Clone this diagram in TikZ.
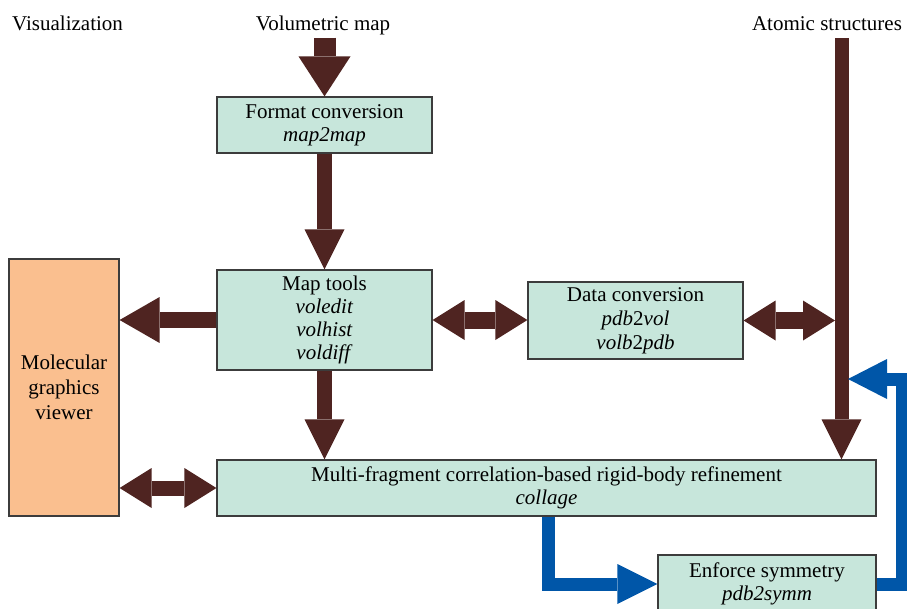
\documentclass[tikz,border=0pt]{standalone}
\usepackage{fontspec}
\setmainfont{Liberation Serif}
\usetikzlibrary{arrows.meta}
\definecolor{boxfill}{HTML}{C7E6DB}
\definecolor{peach}{HTML}{FABF8F}
\definecolor{brn}{HTML}{4F2421}
\definecolor{blu}{HTML}{0056A8}
\definecolor{edgec}{HTML}{3C3C3C}
\begin{document}
\begin{tikzpicture}[x=1pt,y=-1pt,
  font=\fontsize{21}{23}\selectfont,
  box/.style={draw=edgec, line width=1.2pt, fill=boxfill, align=center, inner sep=0pt},
  vbox/.style={draw=edgec, line width=1.2pt, fill=peach, align=center, inner sep=0pt},
  title/.style={anchor=base, inner sep=3pt},
  tipb/.style={-{Triangle[width=40pt,length=40pt,line width=0pt]}},
  dtip/.style={{Triangle[width=40pt,length=32pt,line width=0pt]}-{Triangle[width=40pt,length=32pt,line width=0pt]}},
  brarr/.style={draw=brn, line width=15pt},
  bluarr/.style={draw=blu, line width=13pt, line join=miter}]
\useasboundingbox (0,0) rectangle (907,608);
\clip (0,0) rectangle (907,608);

% titles
\node[title, anchor=base west] (vis) at (9,30) {Visualization};
\node[title] (vol) at (323,30) {Volumetric map};
\node[title] (atom) at (827,30) {Atomic structures};

% boxes
\node[box, minimum width=215pt, minimum height=56pt] (fmt) at (324.5,125) {Format conversion\\\textit{map2map}};
\node[box, minimum width=215pt, minimum height=100pt] (maptools) at (324.5,320) {Map tools\\\textit{voledit}\\\textit{volhist}\\\textit{voldiff}};
\node[box, minimum width=215pt, minimum height=77pt, font=\fontsize{21}{24}\selectfont] (dataconv) at (635.5,320.5) {Data conversion\\\textit{pdb}2\textit{vol}\\\textit{volb}2\textit{pdb}};
\node[vbox, minimum width=110pt, minimum height=257pt, font=\fontsize{21}{25}\selectfont] (viewer) at (64,387.5) {Molecular\\graphics\\viewer};
\node[box, minimum width=659pt, minimum height=56pt] (multi) at (546.5,488) {Multi-fragment correlation-based rigid-body refinement\\\textit{collage}};
\node[box, minimum width=218pt, minimum height=58pt] (enforce) at (767,584) {Enforce symmetry\\\textit{pdb2symm}};

% helper coordinates
\coordinate (atomx) at (841.5,38);
\coordinate (atomleft) at (835,320.5);
\coordinate (atomright) at (848,379);
\coordinate (collx) at (548.5,0);
\coordinate (rightx) at (902,0);

% brown arrows
\draw[brarr, line width=22pt, -{Triangle[width=52pt,length=40pt,line width=0pt]}] (vol.south -| fmt.north) -- (fmt.north);
\draw[brarr, tipb] (fmt.south) -- (maptools.north);
\draw[brarr, tipb] (maptools.south) -- (maptools.south |- multi.north);
\draw[brarr, line width=16pt, -{Triangle[width=46pt,length=40pt,line width=0pt]}] (maptools.west) -- (maptools.west -| viewer.east);
\draw[brarr, line width=17pt, dtip] (maptools.east) -- (maptools.east -| dataconv.west);
\draw[brarr, line width=17pt, dtip] (dataconv.east) -- (atomleft);
\draw[brarr, line width=14pt, tipb] (atomx) -- (atomx |- multi.north);
\draw[brarr, dtip] (multi.west -| viewer.east) -- (multi.west);

% blue arrows
\draw[bluarr, tipb] (collx |- multi.south) |- (enforce.west);
\draw[bluarr, -{Triangle[width=40pt,length=39pt,line width=0pt]}] (enforce.east) -- (enforce.east -| rightx) -- (rightx |- atomright) -- (atomright);
\end{tikzpicture}
\end{document}
